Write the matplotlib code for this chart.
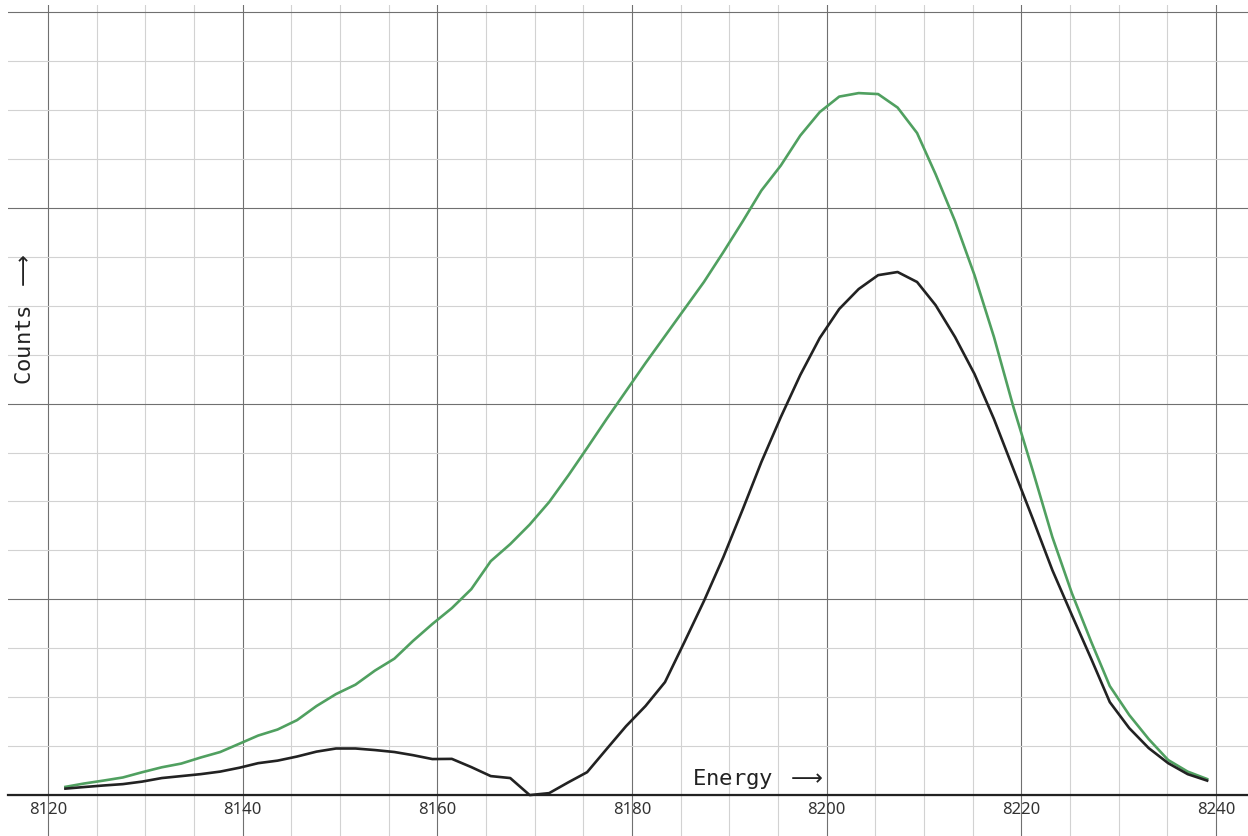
import numpy as np
import matplotlib
matplotlib.use("Agg")
import matplotlib.pyplot as plt
from matplotlib.ticker import MultipleLocator

plt.rcParams["mathtext.fontset"] = "dejavusans"

# measured spectra (energy in eV, counts)
energy = [8121.8, 8123.7, 8125.7, 8127.7, 8129.7, 8131.7, 8133.7, 8135.7, 8137.7, 8139.7,
          8141.6, 8143.6, 8145.6, 8147.6, 8149.6, 8151.6, 8153.6, 8155.6, 8157.5, 8159.5,
          8161.5, 8163.5, 8165.5, 8167.5, 8169.5, 8171.5, 8173.5, 8175.4, 8177.4, 8179.4,
          8181.4, 8183.4, 8185.4, 8187.4, 8189.4, 8191.4, 8193.3, 8195.3, 8197.3, 8199.3,
          8201.3, 8203.3, 8205.3, 8207.3, 8209.3, 8211.2, 8213.2, 8215.2, 8217.2, 8219.2,
          8221.2, 8223.2, 8225.2, 8227.2, 8229.1, 8231.1, 8233.1, 8235.1, 8237.1, 8239.1]

total = [42, 59, 74, 90, 117, 142, 161, 192, 220, 263,
         304, 335, 383, 455, 516, 564, 636, 697, 787, 874,
         955, 1052, 1195, 1282, 1382, 1497, 1635, 1773, 1921, 2064,
         2207, 2345, 2483, 2621, 2774, 2932, 3088, 3216, 3369, 3489,
         3568, 3586, 3581, 3512, 3382, 3172, 2932, 2656, 2340, 1982,
         1655, 1318, 1032, 782, 557, 409, 286, 179, 120, 82]

signal = [33, 41, 49, 56, 69, 87, 97, 107, 120, 140,
          163, 176, 197, 222, 238, 238, 230, 220, 204, 184,
          185, 143, 97, 87, 0, 10, 66, 117, 235, 352,
          455, 577, 782, 991, 1216, 1461, 1701, 1931, 2146, 2335,
          2483, 2585, 2656, 2672, 2621, 2503, 2340, 2151, 1921, 1665,
          1410, 1149, 920, 695, 475, 342, 240, 163, 107, 74]

x_ticks = [8120, 8140, 8160, 8180, 8200, 8220, 8240]

W, H = 1248, 837
fig = plt.figure(figsize=(W / 100, H / 100), dpi=100)
ax = fig.add_axes([8 / W, 0, 1 - 8 / W, 1 - 6 / H])

ax.plot(energy, total, color="#50a060", lw=1.9, zorder=3)
ax.plot(energy, signal, color="#222222", lw=1.9, zorder=4)

ax.set_xlim(8115.9, 8243.3)
ax.set_ylim(-209, 4036)

ax.set_xticks(x_ticks)
ax.xaxis.set_minor_locator(MultipleLocator(5))
ax.yaxis.set_major_locator(MultipleLocator(1000))
ax.yaxis.set_minor_locator(MultipleLocator(250))
ax.grid(which="major", color="#707070", lw=0.8)
ax.grid(which="minor", color="#d2d2d2", lw=0.8)
ax.set_axisbelow(True)

for side in ["left", "right", "top"]:
    ax.spines[side].set_visible(False)
ax.spines["bottom"].set_position(("data", 0))
ax.spines["bottom"].set_color("#222222")
ax.spines["bottom"].set_linewidth(1.6)
ax.spines["bottom"].set_zorder(5)

ax.tick_params(axis="x", which="both", length=0, pad=4, labelsize=12,
               labelcolor="#333333")
ax.tick_params(axis="y", which="both", length=0, labelleft=False)
for lab in ax.get_xticklabels():
    lab.set_fontfamily("Noto Sans")

mono = ["DejaVu Sans Mono", "DejaVu Sans"]
ax.text(8199.6, 56, r"Energy $\longrightarrow$", family=mono, fontsize=16,
        color="#222222", ha="right", va="baseline", zorder=6)
ax.text(8117.6, 2100, r"Counts $\longrightarrow$", family=mono, fontsize=16,
        color="#222222", rotation=90, ha="center", va="bottom", zorder=6)

fig.savefig("out.png", dpi=100)
